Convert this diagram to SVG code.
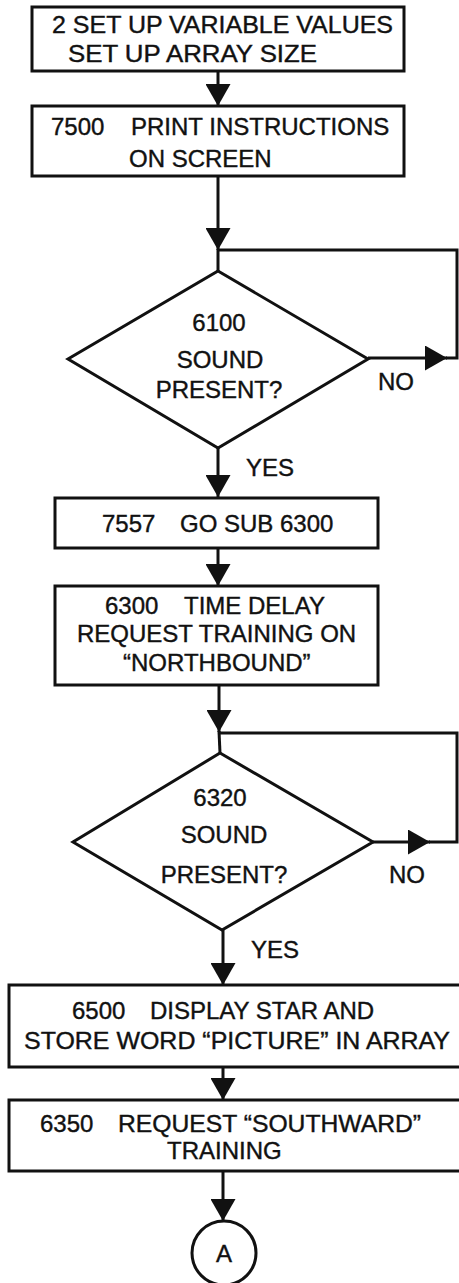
<svg xmlns="http://www.w3.org/2000/svg" width="459" height="1283" viewBox="0 0 459 1283">
<style>
.box{fill:#fff;stroke:#111;stroke-width:3}
.ln{fill:none;stroke:#111;stroke-width:3}
.t{font-family:"Liberation Sans",Arial,Helvetica,sans-serif;font-size:24px;fill:#111;stroke:#111;stroke-width:0.4}
.c{text-anchor:middle}
</style>
<defs>
<marker id="ah" viewBox="0 0 22 25" refX="22" refY="12.5" markerWidth="22" markerHeight="25" markerUnits="userSpaceOnUse" orient="auto">
<path d="M0,0 L22,12.5 L0,25 Z" fill="#111"/>
</marker>
</defs>
<rect width="459" height="1283" fill="#fff"/>
<g id="connectors">
<path class="ln" d="M218,71 V106" marker-end="url(#ah)"/>
<path class="ln" d="M218,176 V250" marker-end="url(#ah)"/>
<path class="ln" d="M218,249 V271"/>
<path class="ln" d="M368,358 H447" marker-end="url(#ah)"/>
<path class="ln" d="M446,358 H457 V250 H218"/>
<path class="ln" d="M218,448 V497" marker-end="url(#ah)"/>
<path class="ln" d="M218,548 V586" marker-end="url(#ah)"/>
<path class="ln" d="M219,685 V732" marker-end="url(#ah)"/>
<path class="ln" d="M219,731 L220,753"/>
<path class="ln" d="M373,842 H430" marker-end="url(#ah)"/>
<path class="ln" d="M429,842 H457 V733 H219"/>
<path class="ln" d="M223,930 V985" marker-end="url(#ah)"/>
<path class="ln" d="M223,1067 V1100" marker-end="url(#ah)"/>
<path class="ln" d="M223,1171 V1221" marker-end="url(#ah)"/>
</g>
<g id="n1">
<rect class="box" x="32" y="7" width="372" height="64"/>
<text class="t" x="52" y="33" textLength="341" lengthAdjust="spacingAndGlyphs">2 SET UP VARIABLE VALUES</text>
<text class="t" x="68" y="62" textLength="249" lengthAdjust="spacingAndGlyphs">SET UP ARRAY SIZE</text>
</g>
<g id="n2">
<rect class="box" x="32" y="106" width="372" height="70"/>
<text class="t" x="51" y="135">7500 <tspan x="131">PRINT INSTRUCTIONS</tspan></text>
<text class="t" x="129" y="167">ON SCREEN</text>
</g>
<g id="d1">
<path class="box" d="M218,271 L368,359 L218,448 L68,359 Z"/>
<text class="t c" x="219" y="331">6100</text>
<text class="t c" x="220" y="368">SOUND</text>
<text class="t c" x="219" y="398">PRESENT?</text>
</g>
<text id="no1" class="t" x="378" y="390">NO</text>
<text id="yes1" class="t" x="246" y="476">YES</text>
<g id="n3">
<rect class="box" x="55" y="498" width="323" height="50"/>
<text class="t" x="102" y="532">7557 <tspan x="180">GO SUB 6300</tspan></text>
</g>
<g id="n4">
<rect class="box" x="55" y="586" width="323" height="99"/>
<text class="t" x="105" y="614">6300 <tspan x="184">TIME DELAY</tspan></text>
<text class="t" x="77" y="642">REQUEST TRAINING ON</text>
<text class="t" x="123" y="671">“NORTHBOUND”</text>
</g>
<g id="d2">
<path class="box" d="M220,753 L373,842 L222,930 L73,842 Z"/>
<text class="t c" x="220" y="806">6320</text>
<text class="t c" x="224" y="843">SOUND</text>
<text class="t c" x="224" y="883">PRESENT?</text>
</g>
<text id="no2" class="t" x="389" y="883">NO</text>
<text id="yes2" class="t" x="251" y="958">YES</text>
<g id="n5">
<rect class="box" x="9" y="985" width="460" height="82"/>
<text class="t" x="72" y="1019">6500 <tspan x="150">DISPLAY STAR AND</tspan></text>
<text class="t" x="24" y="1049" textLength="426" lengthAdjust="spacingAndGlyphs">STORE WORD “PICTURE” IN ARRAY</text>
</g>
<g id="n6">
<rect class="box" x="9" y="1100" width="460" height="71"/>
<text class="t" x="40" y="1132">6350 <tspan x="118" textLength="303" lengthAdjust="spacingAndGlyphs">REQUEST “SOUTHWARD”</tspan></text>
<text class="t" x="167" y="1159">TRAINING</text>
</g>
<g id="a">
<circle class="box" cx="224" cy="1253" r="32"/>
<text class="t c" x="224" y="1262">A</text>
</g>
</svg>
